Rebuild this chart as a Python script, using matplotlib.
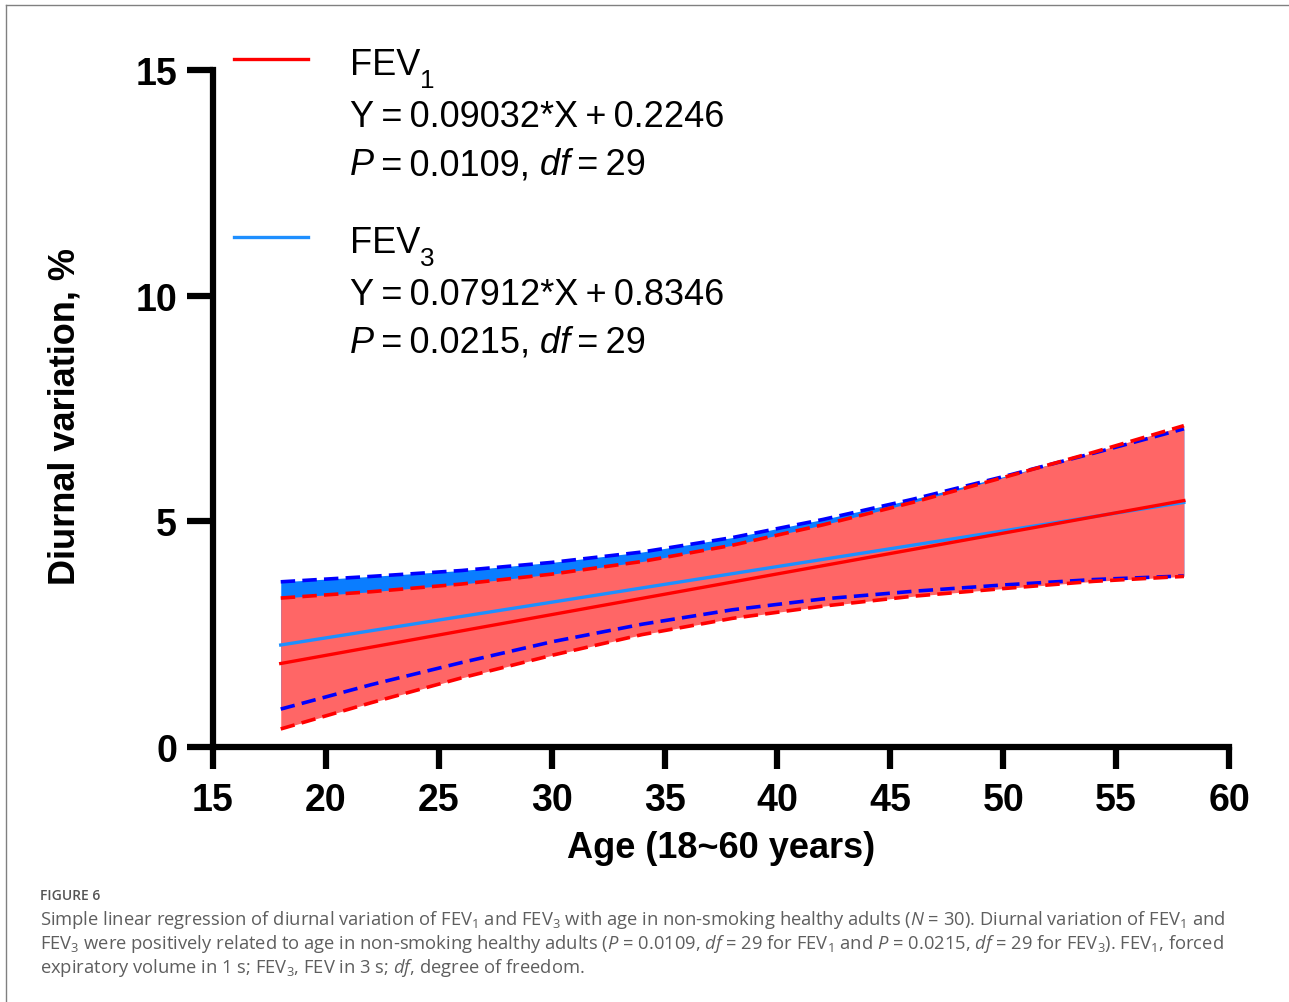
import matplotlib.pyplot as plt
from matplotlib.lines import Line2D

plt.rcParams['font.family'] = ['Liberation Sans', 'DejaVu Sans']
plt.rcParams['mathtext.fontset'] = 'custom'
plt.rcParams['mathtext.rm'] = 'Open Sans'
plt.rcParams['mathtext.it'] = 'Open Sans:italic'
plt.rcParams['mathtext.bf'] = 'Open Sans:bold'

# values (diurnal variation, %)
ages = [18, 22, 26, 30, 34, 38, 42, 46, 50, 54, 58]
fev1_hi = [3.30, 3.44, 3.61, 3.83, 4.11, 4.47, 4.92, 5.42, 5.97, 6.53, 7.12]
fev1_lo = [0.40, 0.98, 1.53, 2.03, 2.49, 2.85, 3.12, 3.34, 3.51, 3.67, 3.78]
fev3_hi = [3.66, 3.78, 3.91, 4.09, 4.32, 4.64, 5.04, 5.49, 5.99, 6.51, 7.05]
fev3_lo = [0.84, 1.38, 1.87, 2.33, 2.72, 3.04, 3.28, 3.45, 3.59, 3.71, 3.79]

fit_ages = [18, 58]
fev1_fit = [1.85, 5.46]
fev3_fit = [2.26, 5.42]

x_ticks = [15, 20, 25, 30, 35, 40, 45, 50, 55, 60]
y_ticks = [0, 5, 10, 15]

# legend rows: subscript, slope, intercept, P, df
rows = [('1', '0.09032', '0.2246', '0.0109', '29'),
        ('3', '0.07912', '0.8346', '0.0215', '29')]

RED = '#ff0000'
RED_FILL = '#ff6666'
BLUE = '#0000ff'
BLUE_FILL = '#0a7dff'
BLUE_LINE = '#1e8fff'
TS = '\u2009'  # thin space, the equations are set tight

W, H = 1289, 1003
fig = plt.figure(figsize=(W / 100, H / 100), dpi=100)
ax = fig.add_axes([213 / W, 1 - 748 / H, 1016 / W, 677 / H])


def px(x, y):
    return x / W, 1 - y / H


# bands
ax.fill_between(ages, fev3_lo, fev3_hi, color=BLUE_FILL, lw=0)
ax.fill_between(ages, fev1_lo, fev1_hi, color=RED_FILL, lw=0)
ax.plot(fit_ages, fev3_fit, color=BLUE_LINE, lw=2.4)
ax.plot(fit_ages, fev1_fit, color=RED, lw=2.4)
for band in (fev3_hi, fev3_lo):
    ax.plot(ages, band, color=BLUE, lw=2.6, dashes=(4, 2))
for band in (fev1_hi, fev1_lo):
    ax.plot(ages, band, color=RED, lw=2.6, dashes=(4, 2))

ax.set_xlim(15, 60)
ax.set_ylim(0, 15)
ax.set_xticks(x_ticks)
ax.set_yticks(y_ticks)
ax.spines['top'].set_visible(False)
ax.spines['right'].set_visible(False)
for s in ('left', 'bottom'):
    ax.spines[s].set_linewidth(4.5)
ax.tick_params(axis='x', length=16, width=4.5, pad=9, labelsize=27)
ax.tick_params(axis='y', length=19, width=4.5, pad=7, labelsize=27)
for lab in ax.get_xticklabels() + ax.get_yticklabels():
    lab.set_fontweight('bold')

ax.set_xlabel('Age (18~60 years)', fontsize=26, fontweight='bold')
ax.xaxis.set_label_coords(0.5, -0.123)
ax.set_ylabel('Diurnal variation, %', fontsize=26, fontweight='bold')
ax.yaxis.set_label_coords(-0.128, 0.49)


def chain(x, y, pieces, size=26):
    t = None
    for txt, style, sub in pieces:
        kw = dict(fontsize=size * 0.72 if sub else size, style=style, color='black')
        if t is None:
            t = fig.text(*px(x, y), txt, va='baseline', ha='left', **kw)
        else:
            t = ax.annotate(txt, xy=(1, 0), xycoords=t,
                            xytext=(0, -7 if sub else 0), textcoords='offset points',
                            va='bottom', ha='left', annotation_clip=False, **kw)
    return t


colors = [RED, BLUE_LINE]
tops = [60, 238]
for (sub, a, b, p, df), c, top in zip(rows, colors, tops):
    fig.add_artist(Line2D([234 / W, 308 / W], [1 - top / H] * 2, color=c, lw=2.4))
    chain(350, top + 15, [('FEV', 'normal', False), (sub, 'normal', True)])
    chain(350, top + 67, [(f'Y{TS}={TS}{a}*X{TS}+{TS}{b}', 'normal', False)])
    chain(350, top + 115, [('P', 'italic', False), (f'{TS}={TS}{p},', 'normal', False),
                           (' df', 'italic', False), (f'{TS}={TS}{df}', 'normal', False)])

# frame + caption
fig.add_artist(Line2D([6 / W, 6 / W], [1 - 6 / H, 0], color='#808080', lw=1))
fig.add_artist(Line2D([6 / W, 1], [1 - 6 / H, 1 - 6 / H], color='#808080', lw=1))

cap = dict(fontfamily='Open Sans', color='#5e5e5e', fontsize=13.2, va='baseline', ha='left')
fig.text(*px(40, 900), 'FIGURE 6', fontfamily='Open Sans', fontweight='semibold',
         color='#555555', fontsize=10, va='baseline')
fig.text(*px(40, 925), r'Simple linear regression of diurnal variation of FEV$_1$ and FEV$_3$ '
         r'with age in non-smoking healthy adults ($N$ = 30). Diurnal variation of FEV$_1$ and', **cap)
fig.text(*px(40, 949), r'FEV$_3$ were positively related to age in non-smoking healthy adults '
         r'($P$ = 0.0109, $df$ = 29 for FEV$_1$ and $P$ = 0.0215, $df$ = 29 for FEV$_3$). '
         r'FEV$_1$, forced', **cap)
fig.text(*px(40, 973), r'expiratory volume in 1 s; FEV$_3$, FEV in 3 s; $df$, degree of freedom.', **cap)

fig.savefig('out.png', dpi=100)
